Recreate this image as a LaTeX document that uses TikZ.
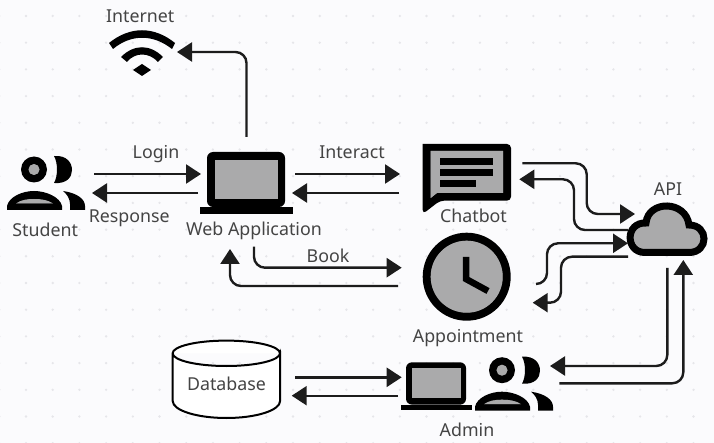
\documentclass[tikz,border=0pt]{standalone}
\usepackage{fontspec}
\setmainfont{Noto Sans}
\usetikzlibrary{arrows.meta}
\definecolor{paper}{HTML}{FBFBFD}
\definecolor{griddot}{HTML}{E6E6EA}
\definecolor{inkline}{HTML}{1C1C1C}
\definecolor{inktext}{HTML}{444444}
\tikzset{
	label/.style={text=inktext, inner sep=0pt, anchor=base, font=\fontsize{17.8}{20}\selectfont},
	link/.style={draw=inkline, line width=2.4pt, rounded corners=11pt, -{Triangle[length=15pt,width=19pt]}},
	screen/.style={fill=black, fill opacity=0.32},
}
\def\laptopicon(#1)(#2)(#3){
	\begin{scope}[shift={(#1)},scale=#2]
		\fill[black, rounded corners=#3] (0, 0) rectangle (78, 55);
		\fill[paper] (8, 8) rectangle (71, 47);
		\fill[screen] (8, 8) rectangle (71, 47);
		\fill[black] (-7, 55) rectangle (86, 62);
	\end{scope}
}
\def\peopleicon(#1){
	\begin{scope}[shift={(#1)}]
		\fill[black] (27, 13.5) circle (13);
		\fill[paper] (27, 13.5) circle (5.5);
		\fill[screen] (27, 13.5) circle (5.5);
		\fill[black] (47, 0) .. controls (60, -1) and (65, 7) .. (65, 14) .. controls (65, 21) and (60, 28) .. (47, 27) .. controls (51, 20) and (51, 7) .. (47, 0) -- cycle;
		\fill[black] (0, 54) -- (0, 50) .. controls (2, 41) and (15, 35) .. (27, 35) .. controls (39, 35) and (53, 41) .. (55, 50) -- (55, 54) -- cycle;
		\fill[paper] (9, 47.5) .. controls (14, 44) and (20, 43) .. (27, 43) .. controls (34, 43) and (41, 44) .. (46, 47.5) -- cycle;
		\fill[screen] (9, 47.5) .. controls (14, 44) and (20, 43) .. (27, 43) .. controls (34, 43) and (41, 44) .. (46, 47.5) -- cycle;
		\fill[black] (56, 35) .. controls (70, 37) and (78, 43) .. (78, 50) -- (78, 54) -- (63, 54) -- (63, 48) .. controls (63, 43) and (60, 38) .. (56, 35) -- cycle;
	\end{scope}
}

\begin{document}
\begin{tikzpicture}[x=1pt, y=-1pt]
	%%%%% START %%%%%
	\useasboundingbox (0, 0) rectangle (714, 443);
	\fill[paper] (0, 0) rectangle (714, 443);
	\foreach \gx in {0,...,26}
		\foreach \gy in {0,...,16}
			\fill[griddot] ({-0.7+26.7*\gx}, {16+26.7*\gy}) circle (1.3);
	
	% wifi
	\fill[black] (109, 43) .. controls (130, 26) and (154, 26) .. (175, 43) -- (172, 49) .. controls (153, 34) and (131, 34) .. (113, 49) -- cycle;
	\fill[black] (121, 57) .. controls (134, 44) and (150, 44) .. (163, 57) -- (158, 62) .. controls (149, 52) and (135, 52) .. (127, 62) -- cycle;
	\fill[black] (133, 70) -- (142, 64) -- (151, 70) -- (142, 76) -- cycle;
	\node[label] (internet) at (140.2, 22.3) {Internet};
	
	% student and web application
	\peopleicon(7, 156);
	\node[label] (student) at (45.2, 236.7) {Student};
	\laptopicon(207, 152)(1)(6);
	\node[label] (webapp) at (254, 235.3) {Web Application};
	
	% chatbot
	\fill[black, rounded corners=4] (422.7, 144) -- (511, 144) -- (511, 200.7) -- (440, 200.7) -- (422.7, 214) [sharp corners] -- cycle;
	\fill[paper] (430.7, 151) -- (503, 151) -- (503, 193) -- (437, 193) -- (430.7, 198) -- cycle;
	\fill[screen] (430.7, 151) -- (503, 151) -- (503, 193) -- (437, 193) -- (430.7, 198) -- cycle;
	\fill[black] (440, 158.3) rectangle (493, 165);
	\fill[black] (440, 169) rectangle (493, 175.7);
	\fill[black] (440, 180) rectangle (475.7, 186.7);
	\node[label] (chatbot) at (473.5, 222.3) {Chatbot};
	
	% appointment clock
	\fill[black] (466.7, 276.7) circle (44);
	\fill[paper] (466.7, 276.7) circle (36);
	\fill[screen] (466.7, 276.7) circle (36);
	\draw[line width=6.5pt] (466, 257) -- (466, 279) -- (488, 291);
	\node[label] (appointment) at (468, 342.7) {Appointment};
	
	% api cloud
	\draw[black, line width=7pt, fill=paper] (645, 252.5) -- (689, 252.5) .. controls (709, 252.5) and (709, 225) .. (689, 225) .. controls (686, 200) and (648, 200) .. (646, 223) .. controls (625, 222) and (625, 252.5) .. (645, 252.5) -- cycle;
	\fill[screen] (645, 252.5) -- (689, 252.5) .. controls (709, 252.5) and (709, 225) .. (689, 225) .. controls (686, 200) and (648, 200) .. (646, 223) .. controls (625, 222) and (625, 252.5) .. (645, 252.5) -- cycle;
	\node[label] (api) at (668, 195.7) {API};
	
	% database
	\draw[black, line width=2pt, fill=white] (172.7, 353.3) -- (172.7, 401) arc[start angle=180, end angle=0, x radius=53.7, y radius=17] -- (280, 353.3) arc[start angle=0, end angle=360, x radius=53.7, y radius=12.7];
	\node[label] (database) at (226.5, 390.3) {Database};
	
	% admin
	\laptopicon(406, 362.3)(0.77)(6);
	\peopleicon(475, 356.7);
	\node[label] (admin) at (467, 436) {Admin};
	
	% connector ends
	\coordinate (webtop) at (246.5, 137);
	\coordinate (wifitip) at (177, 52);
	\draw[link] (webtop) |- (wifitip);
	
	\coordinate (loginout) at (94, 174);
	\coordinate (loginin) at (201, 174);
	\coordinate (respout) at (198, 193);
	\coordinate (respin) at (92, 193);
	\draw[link] (loginout) -- (loginin);
	\draw[link] (respout) -- (respin);
	\node[label] (login) at (156, 158.7) {Login};
	\node[label] (response) at (129.3, 222.3) {Response};
	
	\coordinate (chatout) at (295, 174);
	\coordinate (chatin) at (400, 174);
	\coordinate (webout) at (399, 193);
	\coordinate (webin) at (292, 193);
	\draw[link] (chatout) -- (chatin);
	\draw[link] (webout) -- (webin);
	\node[label] (interact) at (352, 158.7) {Interact};
	
	\coordinate (bookout) at (254, 246.7);
	\coordinate (bookin) at (401.7, 267.7);
	\coordinate (clockout) at (398, 286);
	\coordinate (clockin) at (230, 249);
	\draw[link] (bookout) |- (bookin);
	\draw[link] (clockout) -| (clockin);
	\node[label] (book) at (328, 262.3) {Book};
	
	\coordinate (chatapiout) at (522.3, 163.3);
	\coordinate (chatapiin) at (635, 214);
	\coordinate (apichatout) at (628, 230);
	\coordinate (apichatin) at (519.3, 179.3);
	\draw[link] (chatapiout) -- (586.7, 163.3) -- (586.7, 214) -- (chatapiin);
	\draw[link] (apichatout) -- (574, 230) -- (574, 179.3) -- (apichatin);
	
	\coordinate (clockapiout) at (536, 284);
	\coordinate (clockapiin) at (628, 243.3);
	\coordinate (apiclockout) at (628, 256.7);
	\coordinate (apiclockin) at (532.7, 302.7);
	\draw[link] (clockapiout) -- (547, 284) -- (547, 243.3) -- (clockapiin);
	\draw[link] (apiclockout) -- (561, 256.7) -- (561, 302.7) -- (apiclockin);
	
	\coordinate (apiadminout) at (667.3, 268);
	\coordinate (apiadminin) at (550, 366);
	\coordinate (adminapiout) at (559.3, 383.3);
	\coordinate (adminapiin) at (683.3, 260);
	\draw[link] (apiadminout) |- (apiadminin);
	\draw[link] (adminapiout) -| (adminapiin);
	
	\coordinate (dbout) at (295, 377.3);
	\coordinate (dbin) at (401.7, 377.3);
	\coordinate (adminout) at (398, 395.7);
	\coordinate (adminin) at (291.7, 395.7);
	\draw[link] (dbout) -- (dbin);
	\draw[link] (adminout) -- (adminin);
	%%%%% END %%%%%
\end{tikzpicture}
\end{document}
